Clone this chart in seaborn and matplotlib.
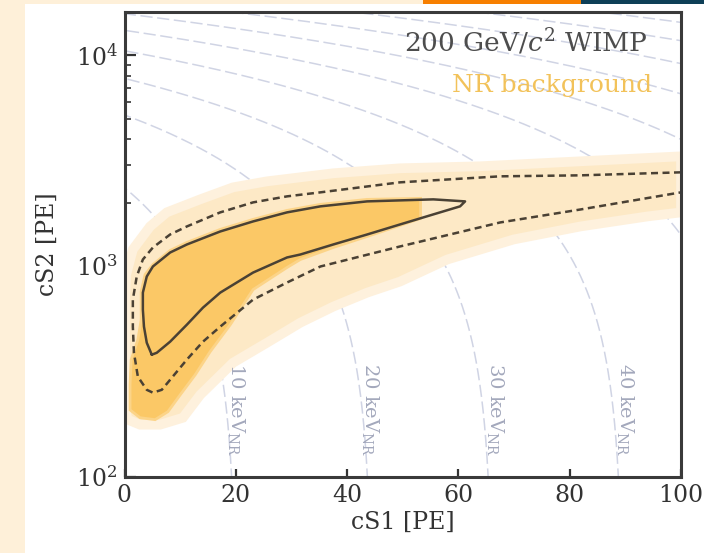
import numpy as np
import pandas as pd
import matplotlib
matplotlib.use('Agg')
import matplotlib.pyplot as plt
import seaborn as sns
from matplotlib.patches import Rectangle

# --- data (cS1 [PE], cS2 [PE]) ---

# outer (pale) NR background region
pale_cs1 = [100, 81.9, 63.9, 49.5, 37.5, 25.6, 19.5, 13.6, 7.6, 4.6, 1.5, 0.3, 0.1,
            0.1, 0.6, 2.8, 6.4, 10.5, 13.6, 19.5, 25.6, 31.6, 37.5, 43.6, 49.5,
            58.0, 69.9, 81.9, 94.0, 100]
pale_cs2 = [3311, 3136, 2970, 2906, 2751, 2520, 2360, 2070, 1796, 1540, 1198, 911, 693,
            208, 187, 177, 177, 191, 245, 348, 433, 539, 642, 748, 844,
            1074, 1336, 1540, 1719, 1796]

# inner (dark) NR background region
dark_cs1 = [53.2, 43.6, 35.2, 29.2, 23.1, 17.2, 11.2, 8.2, 5.1, 3.7, 3.0, 3.0, 2.4,
            1.2, 1.0, 1.0, 2.8, 5.5, 7.8, 10.0, 12.7, 15.4, 19.0, 23.1, 29.2,
            31.6, 37.5, 43.6, 49.5, 53.2]
dark_cs2 = [2093, 2070, 1960, 1835, 1663, 1491, 1293, 1185, 1016, 911, 757, 557, 447,
            360, 274, 208, 191, 187, 204, 245, 305, 393, 527, 773, 984,
            1074, 1224, 1381, 1557, 1682]

# solid (1 sigma) WIMP contour
solid_cs1 = [4.9, 4.0, 3.5, 3.3, 3.3, 4.0, 5.1, 8.2, 11.2, 17.2, 23.1, 29.2, 35.2,
             43.6, 55.5, 61.2, 60.3, 55.5, 49.5, 43.6, 37.5, 31.6, 29.2, 23.1,
             17.2, 14.1, 11.2, 8.2, 5.8, 4.9]
solid_cs2 = [380, 433, 516, 621, 748, 892, 995, 1159, 1265, 1458, 1627, 1796, 1918,
             2025, 2070, 2025, 1918, 1757, 1574, 1411, 1265, 1134, 1098, 931,
             748, 635, 527, 438, 388, 380]

# dashed (2 sigma) WIMP contour
dashed_cs1 = [100, 82, 67.5, 49.5, 35.2, 29.2, 23.1, 17.2, 11.2, 8.2, 5.1, 3.3, 2.2,
              1.5, 1.5, 1.7, 2.4, 4.0, 5.1, 6.7, 8.2, 11.2, 14.1, 17.2, 23.1,
              29.2, 35.2, 49.5, 67.5, 82, 100]
dashed_cs2 = [2781, 2691, 2662, 2493, 2235, 2139, 2003, 1796, 1540, 1411, 1224, 1074, 892,
              693, 516, 388, 299, 259, 251, 259, 289, 360, 438, 516, 693,
              835, 995, 1238, 1609, 1855, 2235]

# iso-energy lines: cS2 where cS1 = 0 and cS1 where cS2 = 0
energy_cs2_at_zero = [2350, 5200, 7750, 10480, 13100, 15700, 18250, 20800, 23400, 26000]
energy_cs1_at_zero = [20.1, 44.5, 66.2, 89.6, 112, 134, 156, 178, 200, 222]

# labelled energies
label_text = ['10', '20', '30', '40']
label_cs1 = [20.2, 44.2, 66.6, 90.0]
label_cs2 = [208, 208, 208, 208]

# --- style ---
sns.set_theme(style='ticks')
plt.rcParams['font.family'] = ['DejaVu Serif']
plt.rcParams['mathtext.fontset'] = 'dejavuserif'

W, H = 704, 553
fig = plt.figure(figsize=(W / 100, H / 100), dpi=100, facecolor='#FEF0D9')
# slide decoration around the figure
fig.patches.append(Rectangle((25 / W, 0), 1 - 25 / W, 549 / H, transform=fig.transFigure,
                             facecolor='white', edgecolor='none', zorder=-10))
fig.patches.append(Rectangle((423 / W, 549 / H), 158 / W, 4 / H, transform=fig.transFigure,
                             facecolor='#F77F00', edgecolor='none', zorder=-10))
fig.patches.append(Rectangle((581 / W, 549 / H), 123 / W, 4 / H, transform=fig.transFigure,
                             facecolor='#0E3F57', edgecolor='none', zorder=-10))

ax = fig.add_axes([124.5 / W, 76 / H, 556.5 / W, 465 / H])
ax.set_facecolor('white')
ax.set_yscale('log')

# iso-energy lines (straight in linear cS1-cS2 space)
rows = []
for e, (s2_0, s1_0) in enumerate(zip(energy_cs2_at_zero, energy_cs1_at_zero)):
    s2 = np.geomspace(80, s2_0, 300)
    rows.append(pd.DataFrame({'cs1': s1_0 * (1 - s2 / s2_0), 'cs2': s2, 'line': e}))
energy_df = pd.concat(rows, ignore_index=True)
sns.lineplot(data=energy_df, x='cs1', y='cs2', units='line', estimator=None, sort=False,
             color='#D0D4E4', linewidth=1.1, linestyle=(0, (8, 3)), ax=ax, zorder=1)

# pale region with a soft rim
ax.fill(pale_cs1, pale_cs2, facecolor='#FDE9C6', edgecolor='#FEF1DD', lw=7, zorder=2)
ax.fill(dark_cs1, dark_cs2, facecolor='#FBC866', edgecolor='#FCD488', lw=2, zorder=3)

sns.lineplot(x=dashed_cs1, y=dashed_cs2, sort=False, estimator=None, color='#4A4134',
             linewidth=1.8, linestyle=(0, (2.8, 1.8)), ax=ax, zorder=4)
sns.lineplot(x=solid_cs1, y=solid_cs2, sort=False, estimator=None, color='#4A4134',
             linewidth=1.8, ax=ax, zorder=4)

for t, x, y in zip(label_text, label_cs1, label_cs2):
    ax.text(x, y, t + r' keV$_{\mathrm{NR}}$', rotation=270, ha='center', va='center',
            fontsize=14, color='#A3A8BC', zorder=5)

ax.text(0.939, 0.935, r'200 GeV/$c^2$ WIMP', transform=ax.transAxes, ha='right',
        va='center', fontsize=19, color='#4D4D4D', zorder=6)
ax.text(0.948, 0.843, 'NR background', transform=ax.transAxes, ha='right',
        va='center', fontsize=18, color='#F2C25A', zorder=6)

ax.set_xlim(0, 100)
ax.set_ylim(100, 16000)
ax.set_xticks([0, 20, 40, 60, 80, 100])
ax.set_xlabel('cS1 [PE]', fontsize=17, color='#333333', labelpad=3)
ax.set_ylabel('cS2 [PE]', fontsize=17, color='#333333', labelpad=12)
ax.tick_params(axis='x', which='both', direction='in', length=6, width=1.6,
               top=False, labelsize=17, pad=5, colors='#333333')
ax.tick_params(axis='y', which='major', direction='in', length=8, width=1.6,
               right=False, labelsize=17, pad=5, colors='#333333')
ax.tick_params(axis='y', which='minor', direction='in', length=4, width=1.2,
               right=False, colors='#333333')
for side in ['left', 'bottom', 'top', 'right']:
    ax.spines[side].set_visible(True)
    ax.spines[side].set_linewidth(2.2)
    ax.spines[side].set_color('#3A3A3A')
    ax.spines[side].set_zorder(10)

fig.savefig('out.png', dpi=100, facecolor=fig.get_facecolor())
